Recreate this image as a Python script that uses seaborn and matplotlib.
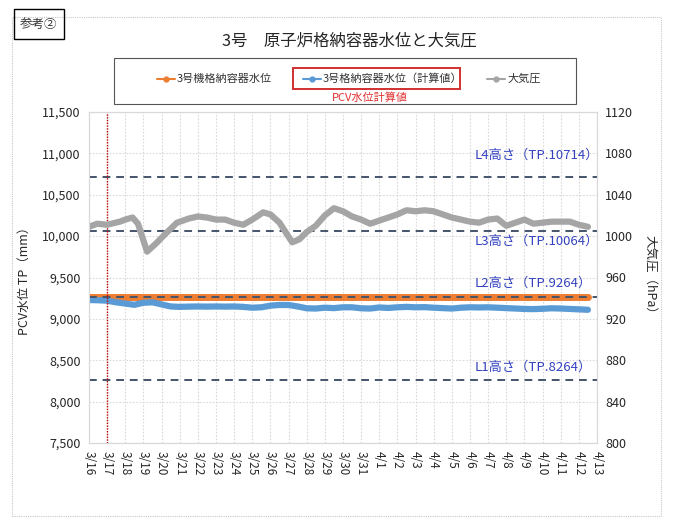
import matplotlib
matplotlib.use("Agg")
import matplotlib.pyplot as plt
import matplotlib.patches as mpatches
from matplotlib.lines import Line2D
from matplotlib.ticker import FuncFormatter, MultipleLocator
import pandas as pd
import seaborn as sns

sns.set_style("white")
plt.rcParams['font.family'] = ['Noto Sans CJK JP', 'DejaVu Sans']

# x tick labels (one per day, 3/16 .. 4/13)
day_labels = ["3/16", "3/17", "3/18", "3/19", "3/20", "3/21", "3/22", "3/23",
              "3/24", "3/25", "3/26", "3/27", "3/28", "3/29", "3/30", "3/31",
              "4/1", "4/2", "4/3", "4/4", "4/5", "4/6", "4/7", "4/8", "4/9",
              "4/10", "4/11", "4/12", "4/13"]

# samples every half day, counted in days from 3/16 0:00
days = [i * 0.5 for i in range(56)]

# 大気圧 (hPa), read at irregular times (days from 3/16)
p_days = [0.0, 0.45, 1.0, 1.7, 2.0, 2.4, 2.7, 3.2, 3.7, 4.2, 4.85, 5.5, 6.0,
          6.5, 7.0, 7.5, 8.0, 8.5, 9.0, 9.6, 10.0, 10.5, 11.2, 11.6, 12.0,
          12.5, 13.0, 13.5, 14.0, 14.5, 15.0, 15.5, 16.0, 16.5, 17.0, 17.5,
          18.0, 18.5, 19.0, 19.5, 20.0, 20.5, 21.0, 21.5, 22.0, 22.5, 23.0,
          23.5, 24.0, 24.5, 25.0, 25.5, 26.0, 26.5, 27.0, 27.5]
pressure = [1009, 1012, 1011, 1014, 1016, 1018, 1012, 985, 993, 1002,
            1013, 1017, 1019, 1018, 1016, 1016, 1013, 1011, 1016, 1023,
            1021, 1013, 994, 997, 1004, 1010, 1020, 1027, 1024, 1019,
            1016, 1012, 1015, 1018, 1021, 1025, 1024, 1025, 1024, 1021,
            1018, 1016, 1014, 1013, 1016, 1017, 1010, 1013, 1016, 1012,
            1013, 1014, 1014, 1014, 1011, 1009]

# 3号格納容器水位（計算値） (mm)
pcv_calc = [9228, 9225, 9220, 9200, 9185, 9170, 9195, 9200, 9175, 9150,
            9145, 9148, 9150, 9148, 9150, 9148, 9150, 9145, 9135, 9140,
            9160, 9168, 9168, 9150, 9128, 9125, 9135, 9130, 9140, 9140,
            9128, 9125, 9138, 9132, 9140, 9145, 9140, 9142, 9135, 9130,
            9125, 9135, 9140, 9138, 9140, 9135, 9130, 9125, 9120, 9118,
            9122, 9128, 9125, 9120, 9115, 9110]

# 3号機格納容器水位 (mm), daily
meas_days = list(range(28)) + [27.5]
pcv_meas = [9264] * 29

# reference levels
level_names = ["L4高さ（TP.10714）", "L3高さ（TP.10064）",
               "L2高さ（TP.9264）", "L1高さ（TP.8264）"]
level_values = [10714, 10064, 9264, 8264]
marker_day = 1  # 3/17

W, H = 673, 529
fig = plt.figure(figsize=(W / 100, H / 100), dpi=100)


def fx(px):
    return px / W


def fy(py):
    return 1 - py / H


ax = fig.add_axes([fx(89), fy(443), fx(597) - fx(89), fy(112) - fy(443)])
ax2 = ax.twinx()

grid_c = "#D9D9D9"
ax.set_xlim(0, 28)
ax.set_ylim(7500, 11500)
ax2.set_ylim(800, 1120)
ax.xaxis.set_major_locator(MultipleLocator(1))
ax.yaxis.set_major_locator(MultipleLocator(500))
ax2.yaxis.set_major_locator(MultipleLocator(40))
ax.grid(True, color=grid_c, linestyle=(0, (1.5, 1.5)), linewidth=0.8)
ax.set_axisbelow(True)
ax.set_xticks(range(29))
ax.set_xticklabels(day_labels, rotation=-90, fontsize=8.5)
ax.yaxis.set_major_formatter(FuncFormatter(lambda v, p: f"{int(v):,}"))
ax.tick_params(axis="y", labelsize=9, length=0, pad=6)
ax.tick_params(axis="x", length=0, pad=6)
ax2.tick_params(axis="y", labelsize=9, length=0, pad=6)
for a in (ax, ax2):
    for s in a.spines.values():
        s.set_color(grid_c)
        s.set_linewidth(0.8)

df_meas = pd.DataFrame({"day": meas_days, "val": pcv_meas})
df_calc = pd.DataFrame({"day": days, "val": pcv_calc})
df_p = pd.DataFrame({"day": p_days, "val": pressure})

sns.lineplot(data=df_meas, x="day", y="val", ax=ax, color="#ED7D31",
             linewidth=5, zorder=3)
sns.lineplot(data=df_calc, x="day", y="val", ax=ax, color="#5B9BD5",
             linewidth=4.5, zorder=3)
sns.lineplot(data=df_p, x="day", y="val", ax=ax2, color="#A5A5A5",
             linewidth=4.5)
ax.set_xlabel("")
ax.set_ylabel("PCV水位 TP（mm）", fontsize=9, labelpad=8)
ax2.set_ylabel("大気圧（hPa）", fontsize=9, rotation=270, labelpad=16)

for v in level_values:
    ax.axhline(v, color="#44546A", linestyle=(0, (4, 3)), linewidth=1.4, zorder=4)
ax.axvline(marker_day, color="#C00000", linestyle=(0, (1, 1)), linewidth=1, zorder=4)

label_y = [155, 241, 283, 367]
for name, py in zip(level_names, label_y):
    fig.text(fx(475), fy(py), name, color="#3342C0", fontsize=9.5, va="center")

# outer frame, tag, title
fig.patches.append(mpatches.Rectangle((fx(12), fy(516)), fx(661) - fx(12), fy(17) - fy(516),
                                      transform=fig.transFigure, fill=False,
                                      edgecolor="#C8C8C8", linestyle=(0, (1, 1)), linewidth=0.8))
fig.patches.append(mpatches.Rectangle((fx(14), fy(39)), fx(64) - fx(14), fy(9) - fy(39),
                                      transform=fig.transFigure, fill=False,
                                      edgecolor="black", linewidth=1))
fig.text(fx(39), fy(24), "参考②", ha="center", va="center", fontsize=9, color="#333333")
fig.text(fx(349), fy(41), "3号　原子炉格納容器水位と大気圧", ha="center", va="center",
         fontsize=11.8)

# legend
fig.patches.append(mpatches.Rectangle((fx(114), fy(104)), fx(576) - fx(114), fy(58) - fy(104),
                                      transform=fig.transFigure, fill=False,
                                      edgecolor="#555555", linewidth=0.8))
fig.patches.append(mpatches.Rectangle((fx(293), fy(89)), fx(460) - fx(293), fy(68) - fy(89),
                                      transform=fig.transFigure, fill=False,
                                      edgecolor="#D03030", linewidth=1.4))
fig.text(fx(370), fy(98), "PCV水位計算値", ha="center", va="center", fontsize=8, color="#E03030")
legend_items = [(157, "#ED7D31", "3号機格納容器水位"),
                (303, "#5B9BD5", "3号格納容器水位（計算値）"),
                (487, "#A5A5A5", "大気圧")]
for px, c, lab in legend_items:
    fig.add_artist(Line2D([fx(px), fx(px + 18)], [fy(79), fy(79)], transform=fig.transFigure,
                          color=c, linewidth=1.5, marker=None))
    fig.add_artist(Line2D([fx(px + 9)], [fy(79)], transform=fig.transFigure,
                          color=c, marker="o", markersize=3.5))
    fig.text(fx(px + 20), fy(79), lab, va="center", fontsize=8, color="#333333")

fig.savefig("out.png", dpi=100)
